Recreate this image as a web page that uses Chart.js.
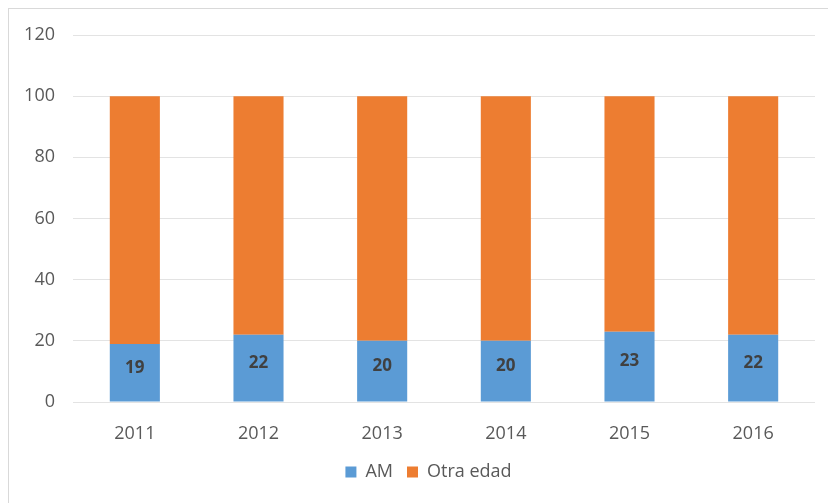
<!DOCTYPE html>
<html>
<head>
<meta charset="utf-8">
<script src="https://cdn.jsdelivr.net/npm/chart.js@4.4.0/dist/chart.umd.min.js"></script>
<style>
  html, body { margin: 0; padding: 0; background: #fff; }
  #wrap { position: relative; width: 828px; height: 503px; overflow: hidden; }
  #frame { position: absolute; left: 8px; top: 8px; width: 900px; height: 600px;
           border-top: 1px solid #d9d9d9; border-left: 1px solid #d9d9d9; }
  canvas { position: absolute; left: 0; top: 0; }
</style>
</head>
<body>
<div id="wrap">
  <div id="frame"></div>
  <canvas id="c" width="828" height="503"></canvas>
</div>
<script>
// datos
const years = ["2011", "2012", "2013", "2014", "2015", "2016"];
const amData = [19, 22, 20, 20, 23, 22];
const otraData = [81, 78, 80, 80, 77, 78];
const yTicks = [0, 20, 40, 60, 80, 100, 120];

const FONT = "'Open Sans', 'Noto Sans', sans-serif";

// etiquetas de valor dentro de las barras AM
const barLabels = {
  id: "barLabels",
  afterDatasetsDraw(chart) {
    const ctx = chart.ctx;
    const meta = chart.getDatasetMeta(0);
    ctx.save();
    ctx.font = "bold 17px " + FONT;
    ctx.fillStyle = "#404040";
    ctx.textAlign = "center";
    ctx.textBaseline = "middle";
    meta.data.forEach((bar, i) => {
      const cy = (bar.y + bar.base) / 2 - 5;
      ctx.fillText(String(amData[i]), bar.x, cy);
    });
    ctx.restore();
  },
};

// la leyenda del original está algo desplazada a la derecha
const legendShift = {
  id: "legendShift",
  afterLayout(chart) {
    const lg = chart.legend;
    if (!lg) return;
    lg.left += 21;
    lg.right += 21;
  },
};

new Chart(document.getElementById("c"), {
  type: "bar",
  data: {
    labels: years,
    datasets: [
      { label: "AM", data: amData, backgroundColor: "#5B9BD5",
        barPercentage: 0.405, categoryPercentage: 1 },
      { label: "Otra edad", data: otraData, backgroundColor: "#ED7D31",
        barPercentage: 0.405, categoryPercentage: 1 },
    ],
  },
  options: {
    responsive: false,
    animation: false,
    devicePixelRatio: 1,
    layout: { padding: { left: 0, right: 13, top: 35, bottom: 12 } },
    plugins: {
      legend: {
        position: "bottom",
        labels: {
          font: { family: FONT, size: 18 },
          color: "#595959",
          boxWidth: 11,
          boxHeight: 11,
          padding: 14,
        },
      },
      tooltip: { enabled: false },
    },
    scales: {
      x: {
        stacked: true,
        grid: { display: false },
        border: { display: false },
        ticks: { font: { family: FONT, size: 18 }, color: "#595959", padding: 13 },
        afterFit: (s) => { s.height = 47; },
      },
      y: {
        stacked: true,
        min: 0,
        max: 120,
        afterBuildTicks: (s) => { s.ticks = yTicks.map((v) => ({ value: v })); },
        grid: { color: "#e3e3e3", drawTicks: false },
        border: { display: false },
        ticks: { font: { family: FONT, size: 18 }, color: "#595959", padding: 18 },
        afterFit: (s) => { s.width = 73; },
      },
    },
  },
  plugins: [barLabels, legendShift],
});
</script>
</body>
</html>
